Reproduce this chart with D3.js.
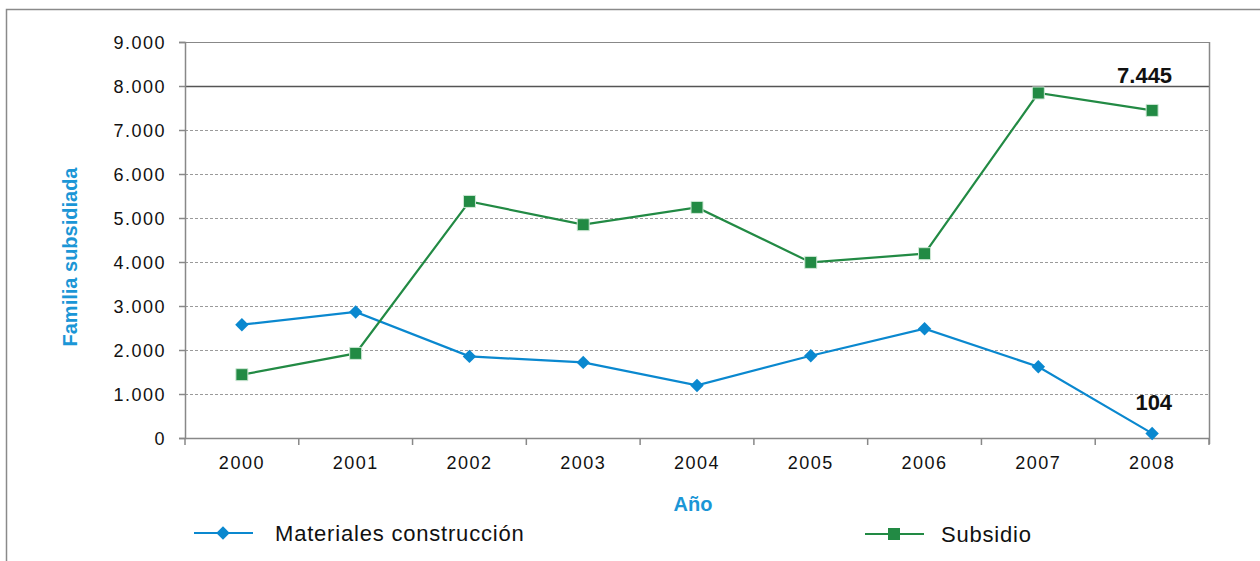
<!DOCTYPE html>
<html>
<head>
<meta charset="utf-8">
<script src="https://cdn.jsdelivr.net/npm/d3@7"></script>
<style>
  body { margin: 0; background: #fff; }
  svg text { font-family: "Liberation Sans", Arial, sans-serif; }
</style>
</head>
<body>
<div id="chart-container"></div>
<script>
const years = ["2000", "2001", "2002", "2003", "2004", "2005", "2006", "2007", "2008"];
const materiales = [2575, 2864, 1855, 1718, 1195, 1870, 2484, 1620, 104];
const subsidio = [1439, 1923, 5377, 4848, 5241, 3991, 4189, 7841, 7445];
const yTicks = [0, 1000, 2000, 3000, 4000, 5000, 6000, 7000, 8000, 9000];

const w = 1260, h = 561;
const plotLeft = 185, plotRight = 1209, plotTop = 42, plotBottom = 438;
const blue = "#0a88cf", green = "#228a44", titleBlue = "#1b96d6";

const fmt = v => d3.format(",")(v).replace(/,/g, ".");

const svg = d3.select("#chart-container").append("svg")
  .attr("width", w).attr("height", h);

// outer frame (top and left only visible)
svg.append("path")
  .attr("d", "M6.5,561 V9.5 H1260")
  .attr("fill", "none").attr("stroke", "#8a8a8a").attr("stroke-width", 1.5);

const xScale = d3.scaleBand().domain(years).range([plotLeft, plotRight]);
const yScale = d3.scaleLinear().domain([0, 9000]).range([plotBottom, plotTop]);

// gridlines
svg.append("g").selectAll("line").data(yTicks.filter(d => d > 0)).enter().append("line")
  .attr("x1", plotLeft).attr("x2", plotRight)
  .attr("y1", d => Math.round(yScale(d)) + 0.5).attr("y2", d => Math.round(yScale(d)) + 0.5)
  .attr("stroke", d => d === 8000 ? "#555" : (d === 9000 ? "#888" : "#9a9a9a"))
  .attr("stroke-width", d => d === 8000 ? 1.3 : 1)
  .attr("stroke-dasharray", d => (d === 8000 || d === 9000) ? null : "3,2");

// right border of plot
svg.append("line")
  .attr("x1", plotRight + 0.5).attr("x2", plotRight + 0.5).attr("y1", plotTop).attr("y2", plotBottom + 6)
  .attr("stroke", "#888").attr("stroke-width", 1.5);

// y axis
const yAxis = d3.axisLeft(yScale).tickValues(yTicks).tickSize(6).tickPadding(13).tickFormat(fmt);
const gy = svg.append("g").attr("transform", "translate(" + plotLeft + ",0)").call(yAxis);
gy.select(".domain").attr("stroke", "#888").attr("stroke-width", 1.5);
gy.selectAll(".tick line").attr("stroke", "#888").attr("stroke-width", 1.5);
gy.selectAll(".tick text").style("font-size", "18px").style("letter-spacing", "1.5px")
  .attr("fill", "#111").attr("dy", "0.36em");

// x axis
const xAxis = d3.axisBottom(xScale).tickSize(0).tickPadding(18);
const gx = svg.append("g").attr("transform", "translate(0," + plotBottom + ")").call(xAxis);
gx.select(".domain").attr("stroke", "#888").attr("stroke-width", 1.5);
gx.selectAll(".tick text").style("font-size", "18px").style("letter-spacing", "1.5px").attr("fill", "#111");
// boundary ticks between categories
gx.selectAll(".bound").data(years.concat(["end"])).enter().append("line")
  .attr("class", "bound")
  .attr("x1", (d, i) => plotLeft + i * xScale.step()).attr("x2", (d, i) => plotLeft + i * xScale.step())
  .attr("y1", 0).attr("y2", 7)
  .attr("stroke", "#888").attr("stroke-width", 1.5);

// axis titles
svg.append("text")
  .attr("x", 693).attr("y", 511)
  .attr("text-anchor", "middle")
  .attr("fill", titleBlue).style("font-weight", "bold").style("font-size", "20px")
  .text("Año");

svg.append("text")
  .attr("transform", "translate(77,257) rotate(-90)")
  .attr("text-anchor", "middle")
  .attr("fill", titleBlue).style("font-weight", "bold").style("font-size", "20px")
  .text("Familia subsidiada");

const cx = d => xScale(d) + xScale.bandwidth() / 2;
const line = d3.line().x(d => cx(d[0])).y(d => yScale(d[1]));

// series
const matData = years.map((y, i) => [y, materiales[i]]);
const subData = years.map((y, i) => [y, subsidio[i]]);

svg.append("path").datum(matData).attr("d", line)
  .attr("fill", "none").attr("stroke", blue).attr("stroke-width", 2.2);
svg.append("path").datum(subData).attr("d", line)
  .attr("fill", "none").attr("stroke", green).attr("stroke-width", 2.2);

const diamond = d3.symbol().type(d3.symbolDiamond2).size(115);
const square = d3.symbol().type(d3.symbolSquare).size(144);

svg.append("g").selectAll("path").data(matData).enter().append("path")
  .attr("d", diamond)
  .attr("transform", d => "translate(" + cx(d[0]) + "," + yScale(d[1]) + ")")
  .attr("fill", blue);

svg.append("g").selectAll("path").data(subData).enter().append("path")
  .attr("d", square)
  .attr("transform", d => "translate(" + cx(d[0]) + "," + yScale(d[1]) + ")")
  .attr("fill", green).attr("stroke", "#cfe8d6").attr("stroke-width", 1);

// data labels for 2008
const last = years.length - 1;
svg.append("text")
  .attr("x", cx(years[last]) + 20).attr("y", yScale(8000) - 3.5)
  .attr("text-anchor", "end").style("font-weight", "bold").style("font-size", "22px")
  .attr("fill", "#111").text(fmt(subsidio[last]));
svg.append("text")
  .attr("x", cx(years[last]) + 20).attr("y", yScale(materiales[last]) - 23)
  .attr("text-anchor", "end").style("font-weight", "bold").style("font-size", "22px")
  .attr("fill", "#111").text(fmt(materiales[last]));

// legend
const legend = [
  { name: "Materiales construcción", color: blue, sym: diamond, x: 194, y: 533 },
  { name: "Subsidio", color: green, sym: square, x: 865, y: 534 }
];
const lg = svg.append("g").selectAll("g").data(legend).enter().append("g")
  .attr("transform", d => "translate(" + d.x + "," + d.y + ")");
lg.append("line").attr("x1", 0).attr("x2", 59).attr("y1", 0).attr("y2", 0)
  .attr("stroke", d => d.color).attr("stroke-width", 2.2);
lg.append("path").attr("d", d => d.sym()).attr("transform", "translate(29,0)")
  .attr("fill", d => d.color);
lg.append("text").attr("x", d => d.name === "Subsidio" ? 76 : 81).attr("y", 0).attr("dy", "0.35em")
  .style("font-size", "22px").style("letter-spacing", "0.8px").attr("fill", "#111")
  .text(d => d.name);
</script>
</body>
</html>
